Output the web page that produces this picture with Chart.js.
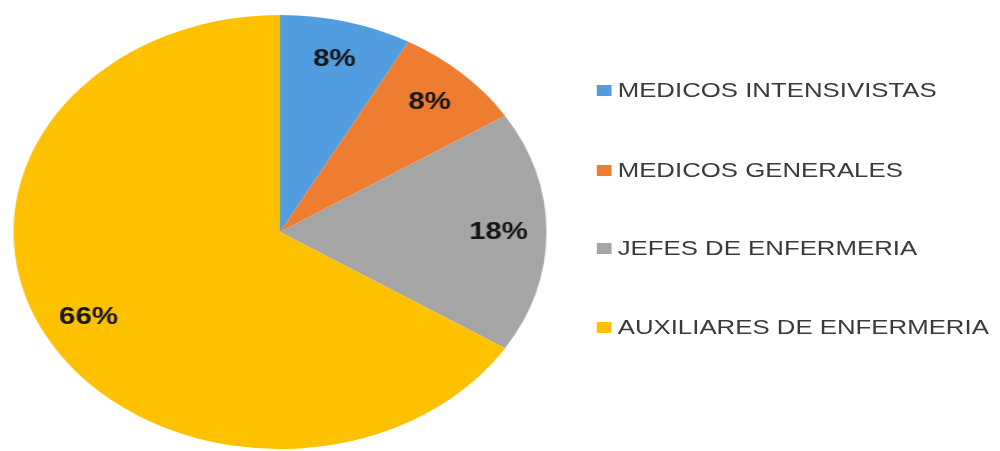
<!DOCTYPE html>
<html>
<head>
<meta charset="utf-8">
<script src="https://cdn.jsdelivr.net/npm/chart.js@4/dist/chart.umd.min.js"></script>
<style>
  html, body { margin: 0; padding: 0; background: #fff; overflow: hidden; }
  body { width: 1000px; height: 451px; position: relative; }
  /* the original picture is stretched sideways, so the whole stage is too */
  #stage { position: absolute; left: 0; top: 0; width: 815px; height: 451px;
           transform: scaleX(1.228); transform-origin: 0 0; }
  #pieBox { position: absolute; left: 11px; top: 15px; width: 434px; height: 434px; }
  #legend { position: absolute; left: 486px; top: 0; font-family: "Liberation Sans", Arial, sans-serif;
            font-size: 21px; color: #3a3a3a; }
  .item { position: absolute; left: 0; white-space: nowrap; height: 24px; line-height: 24px; }
  .box { display: inline-block; width: 12px; height: 11px; margin-right: 5px; vertical-align: 1px; }
</style>
</head>
<body>
<div id="stage">
  <div id="pieBox"><canvas id="pie" width="434" height="434"></canvas></div>
  <div id="legend"></div>
</div>
<script>
const categories = ['MEDICOS INTENSIVISTAS', 'MEDICOS GENERALES', 'JEFES DE ENFERMERIA', 'AUXILIARES DE ENFERMERIA'];
const percents = [8, 8, 18, 66];
const colors = ['#519ddf', '#ef7d31', '#a5a5a5', '#fdc100'];

document.addEventListener('DOMContentLoaded', function () {
  // legend on the right
  const legendEl = document.getElementById('legend');
  const rowY = [78, 158, 236, 315];
  categories.forEach((c, i) => {
    const row = document.createElement('div');
    row.className = 'item';
    row.style.top = rowY[i] + 'px';
    row.innerHTML = '<span class="box" style="background:' + colors[i] + '"></span>' + c;
    legendEl.appendChild(row);
  });

  // percentage labels inside slices
  const pctLabels = {
    id: 'pctLabels',
    afterDatasetsDraw(chart) {
      const ctx = chart.ctx;
      const meta = chart.getDatasetMeta(0);
      ctx.save();
      ctx.font = 'bold 24px "Liberation Sans", Arial, sans-serif';
      ctx.fillStyle = '#151515';
      ctx.textAlign = 'center';
      ctx.textBaseline = 'middle';
      meta.data.forEach((arc, i) => {
        const p = arc.getProps(['x', 'y', 'startAngle', 'endAngle', 'outerRadius'], true);
        const mid = (p.startAngle + p.endAngle) / 2;
        const r = p.outerRadius * 0.82;
        ctx.fillText(percents[i] + '%', p.x + Math.cos(mid) * r, p.y + Math.sin(mid) * r);
      });
      ctx.restore();
    }
  };

  new Chart(document.getElementById('pie'), {
    type: 'pie',
    data: {
      labels: categories,
      datasets: [{
        data: percents,
        backgroundColor: colors,
        borderWidth: 0
      }]
    },
    options: {
      responsive: false,
      animation: false,
      layout: { padding: 0 },
      plugins: {
        legend: { display: false },
        tooltip: { enabled: false }
      }
    },
    plugins: [pctLabels]
  });
});
</script>
</body>
</html>
